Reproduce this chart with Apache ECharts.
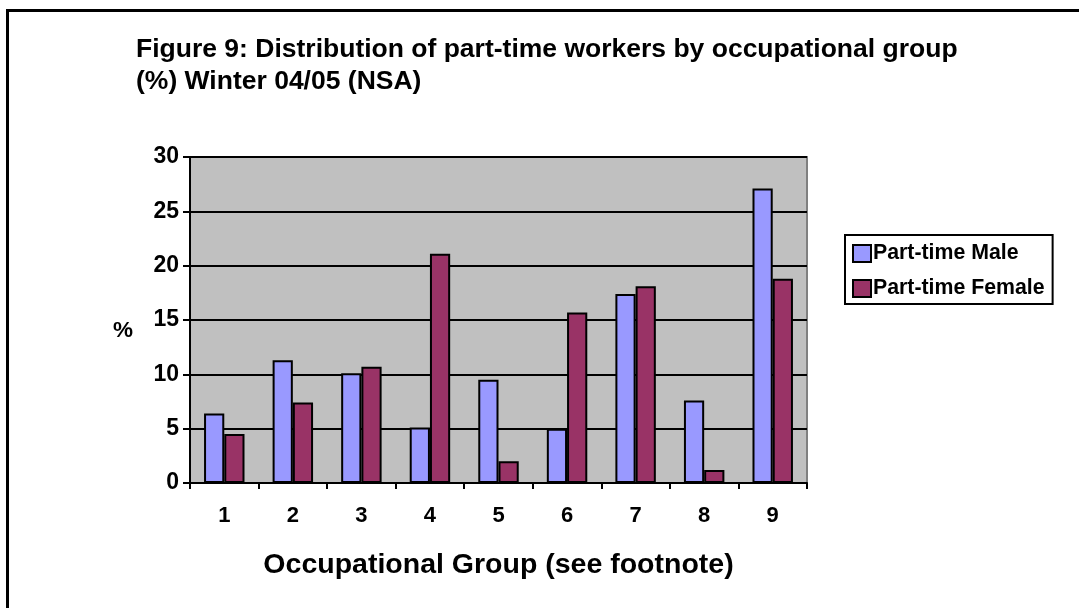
<!DOCTYPE html>
<html>
<head>
<meta charset="utf-8">
<script src="https://cdn.jsdelivr.net/npm/echarts@6/dist/echarts.min.js"></script>
<style>
html,body{margin:0;padding:0;background:#fff;}
#chart{width:1079px;height:608px;}
</style>
</head>
<body>
<div id="chart"></div>
<script>
var categories = ['1','2','3','4','5','6','7','8','9'];
var maleValues = [6.4, 11.3, 10.1, 5.1, 9.5, 5.0, 17.4, 7.6, 27.1];
var femaleValues = [4.5, 7.4, 10.7, 21.1, 2.0, 15.7, 18.1, 1.2, 18.8];
var seriesNames = ['Part-time Male', 'Part-time Female'];
var titleText = 'Figure 9: Distribution of part-time workers by occupational group\n(%) Winter 04/05 (NSA)';
var xAxisName = 'Occupational Group (see footnote)';
var yAxisName = '%';

var FONT = '"Liberation Sans", Arial, sans-serif';
var chart = echarts.init(document.getElementById('chart'), null, {renderer:'canvas'});
chart.setOption({
  animation: false,
  backgroundColor: '#ffffff',
  textStyle: {fontFamily: FONT},
  title: {
    text: titleText,
    left: 131,
    top: 29,
    textStyle: {fontFamily: FONT, fontSize: 26.5, fontWeight: 'bold', color: '#000', lineHeight: 32}
  },
  legend: {
    orient: 'vertical',
    left: 845,
    top: 235,
    padding: [8, 8, 5, 7],
    itemGap: 14,
    itemWidth: 18,
    itemHeight: 17,
    icon: 'rect',
    borderColor: '#000',
    borderWidth: 2,
    backgroundColor: '#fff',
    textStyle: {fontFamily: FONT, fontSize: 21.3, fontWeight: 'bold', color: '#000', padding: [0,0,0,-3]},
    data: seriesNames
  },
  grid: {
    left: 190, right: 272, top: 157, bottom: 125,
    show: true,
    backgroundColor: '#C0C0C0',
    borderColor: '#808080',
    borderWidth: 2
  },
  xAxis: {
    type: 'category',
    data: categories,
    name: xAxisName,
    nameLocation: 'middle',
    nameGap: 68,
    nameTextStyle: {fontFamily: FONT, fontSize: 28.5, fontWeight: 'bold', color: '#000'},
    axisLine: {lineStyle: {color: '#000', width: 2}},
    axisTick: {show: true, length: 6, lineStyle: {color: '#000', width: 2}},
    axisLabel: {fontFamily: FONT, fontSize: 22, fontWeight: 'bold', color: '#000', margin: 22},
    splitLine: {show: false}
  },
  yAxis: {
    type: 'value',
    min: 0, max: 30, interval: 5,
    axisLine: {show: true, lineStyle: {color: '#000', width: 2}},
    axisTick: {show: true, length: 7, lineStyle: {color: '#000', width: 2}},
    axisLabel: {fontFamily: FONT, fontSize: 23, fontWeight: 'bold', color: '#000', margin: 11},
    splitLine: {show: true, lineStyle: {color: '#000', width: 2}}
  },
  graphic: [
    {type: 'rect', silent: true, z: 100, shape: {x: 7.5, y: 10.5, width: 1200, height: 800},
     style: {fill: 'none', stroke: '#000', lineWidth: 3}},
    {type: 'text', z: 100, left: 113, top: 319,
     style: {text: yAxisName, font: 'bold 22.5px ' + FONT, fill: '#000'}}
  ],
  series: [
    {name: seriesNames[0], type: 'bar', data: maleValues, barGap: '0%', barCategoryGap: '41%',
     itemStyle: {color: '#9999FF', borderColor: '#000', borderWidth: 2}},
    {name: seriesNames[1], type: 'bar', data: femaleValues, barGap: '0%', barCategoryGap: '41%',
     itemStyle: {color: '#993366', borderColor: '#000', borderWidth: 2}}
  ]
});
</script>
</body>
</html>
